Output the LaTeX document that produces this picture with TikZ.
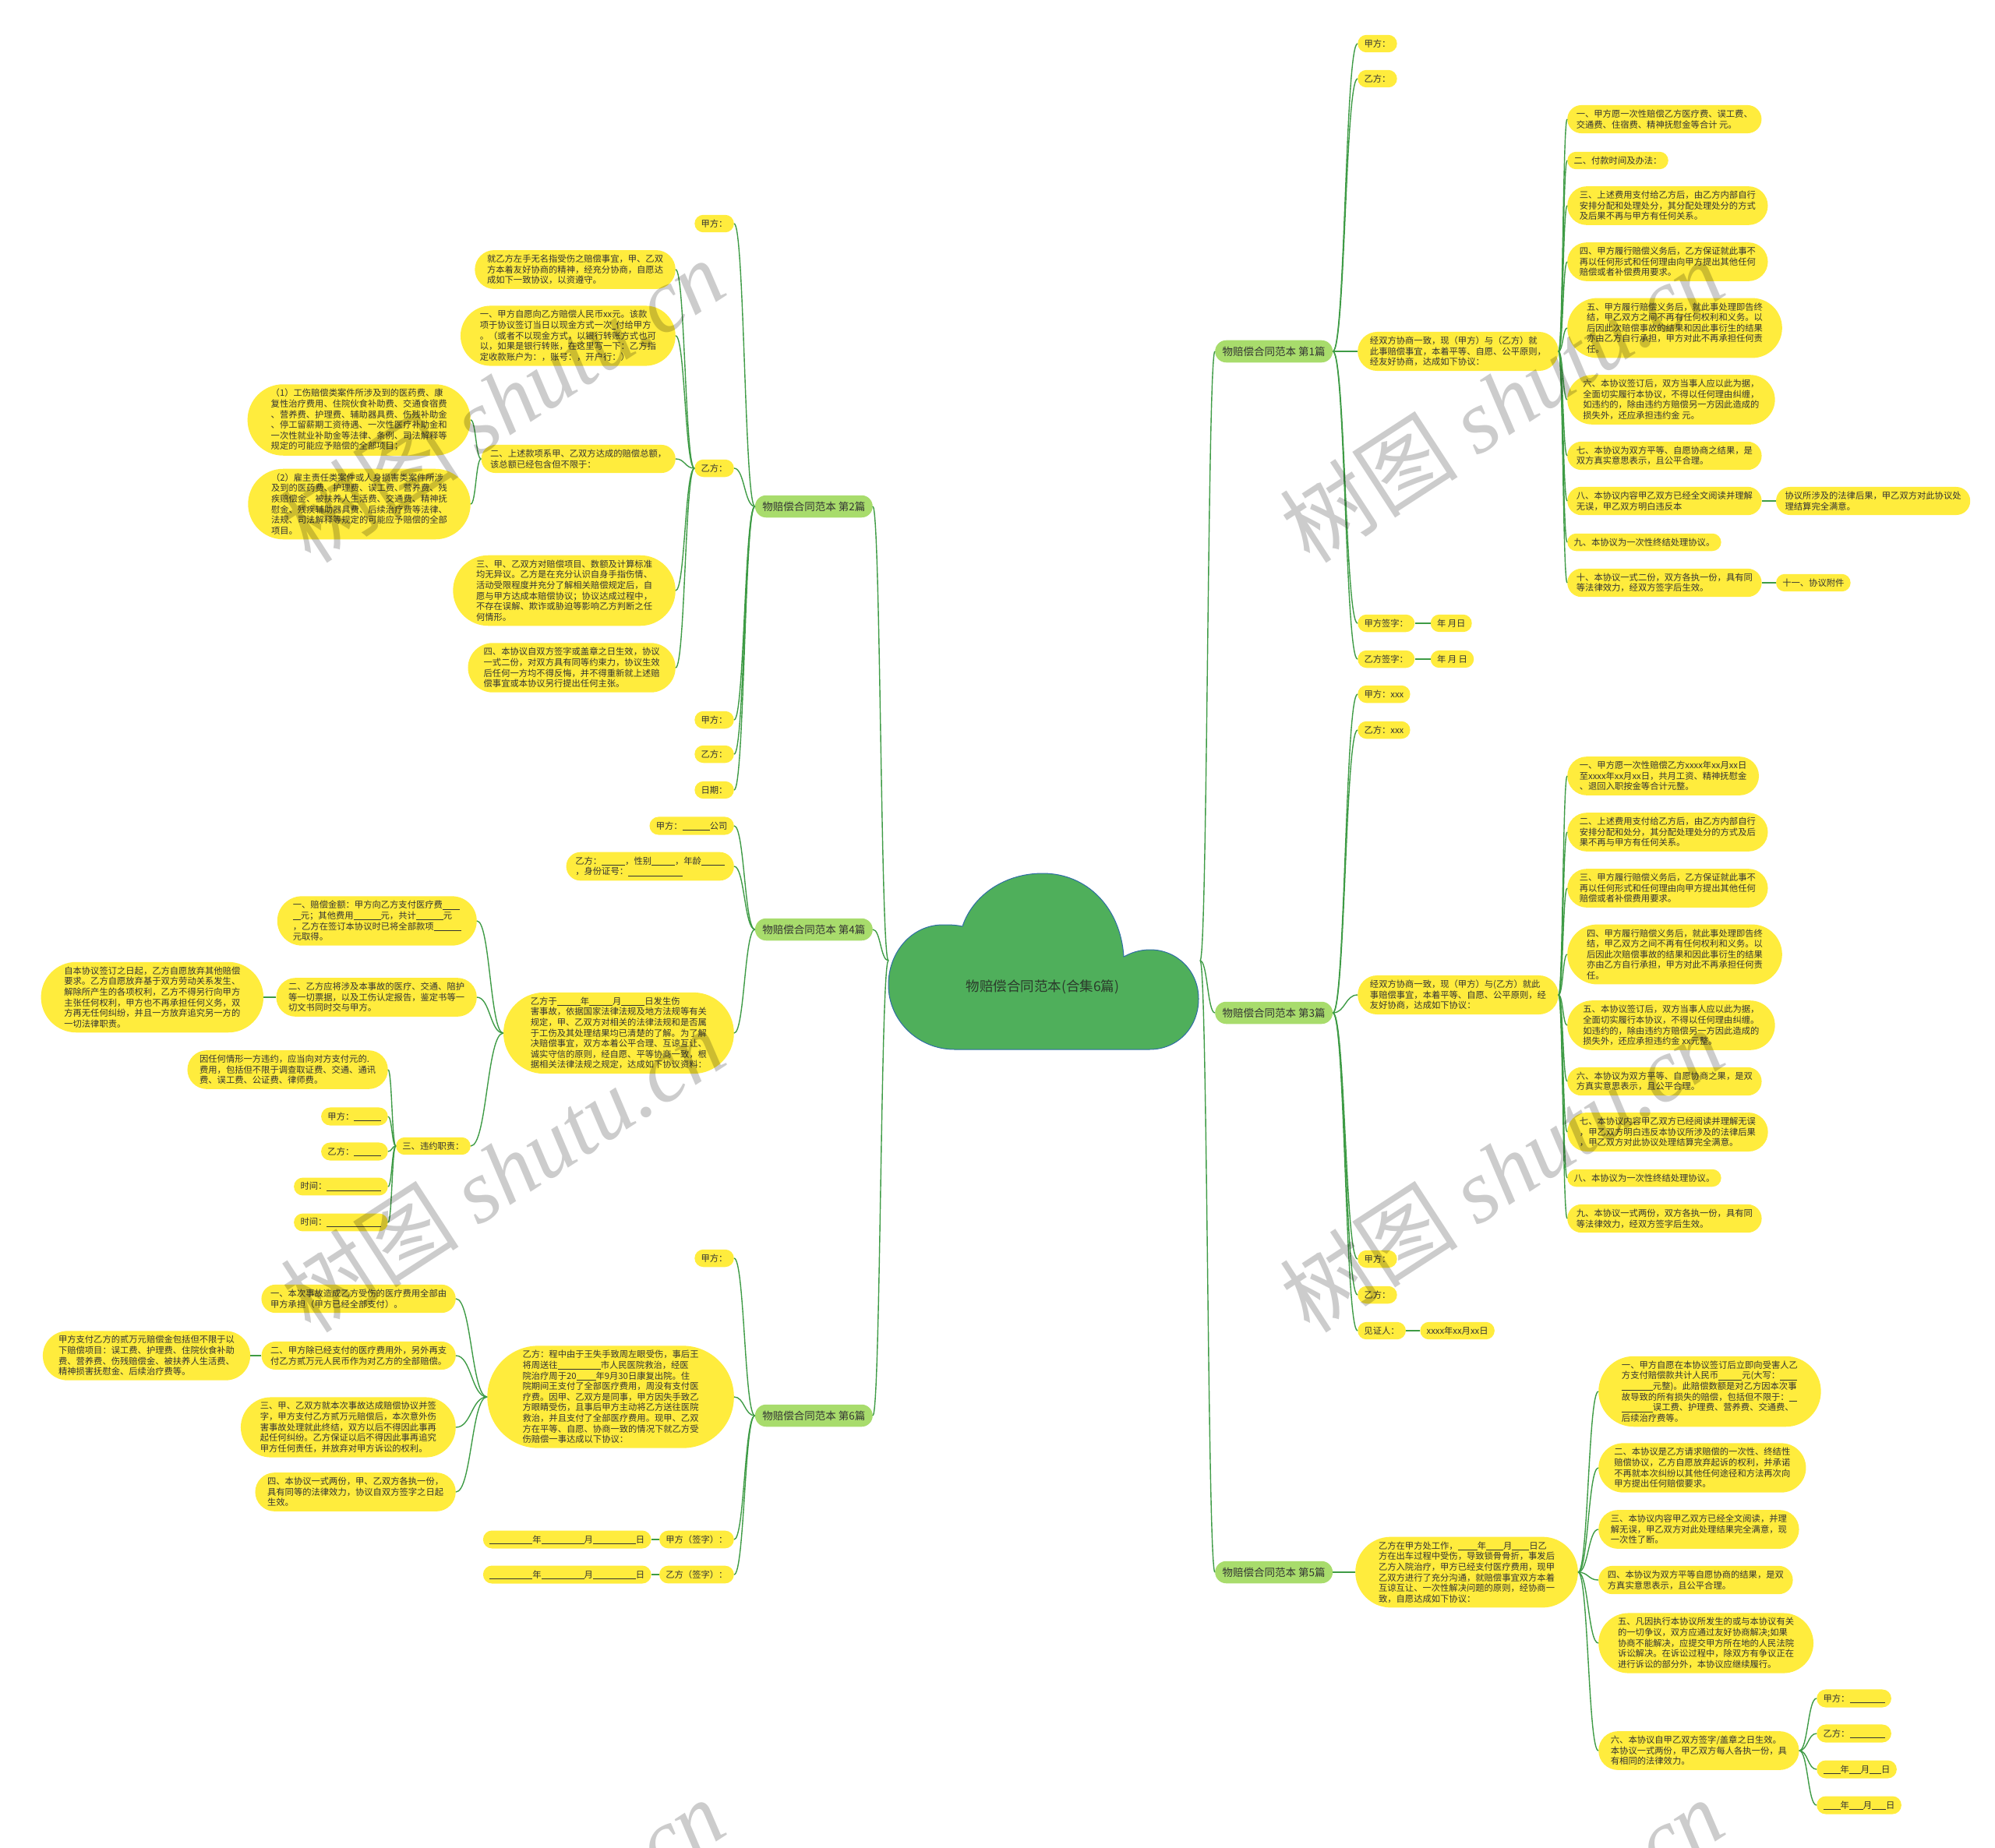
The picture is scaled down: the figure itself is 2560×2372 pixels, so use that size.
\documentclass[tikz,border=0pt]{standalone}
\usepackage{fontspec}
\setmainfont{Noto Sans CJK SC}
\newfontfamily\wmlatin{Liberation Serif}
\usetikzlibrary{shapes.misc,positioning,calc}
\definecolor{leafyellow}{HTML}{FFEC3D}
\definecolor{chapgreen}{HTML}{A8DC6C}
\definecolor{rootgreen}{HTML}{4FAF5B}
\definecolor{rootedge}{HTML}{2E6DA4}
\definecolor{rootink}{HTML}{2B3A2B}
\definecolor{linkgreen}{HTML}{3E9B45}
\definecolor{inkgrey}{HTML}{333333}
% blank to fill in, and a bent connector between two anchors
\newcommand{\blk}[1]{\rule[-1.5pt]{#1}{0.6pt}}
\newcommand{\lnk}[2]{%
  \path ($(#1)!0.5!(#2)$) coordinate (lk);
  \draw[lnkline] (#1) .. controls (lk |- #1) and (lk |- #2) .. (#2);}

\begin{document}
\begin{tikzpicture}[x=1pt, y=-1pt,
  leafbox/.style={rounded rectangle, fill=leafyellow, text=inkgrey, align=left,
    font=\fontsize{11.3}{13.6}\selectfont, inner xsep=7pt, inner ysep=6pt},
  chapbox/.style={rounded rectangle, fill=chapgreen, text=inkgrey,
    font=\fontsize{13.5}{16}\selectfont, inner xsep=8pt, inner ysep=8pt},
  roottext/.style={text=rootink, font=\fontsize{17.5}{20}\selectfont},
  lnkline/.style={draw=linkgreen, line width=1.4pt},
  wmark/.style={rotate=33, text=black, text opacity=0.2, font=\fontsize{115}{115}\selectfont}
]
\useasboundingbox (0,0) rectangle (2560,2372);

% Central cloud
\path[fill=rootgreen, draw=rootedge, line width=1pt]
  (1225,1347) -- (1475,1347)
  .. controls (1512,1347) and (1538,1318) .. (1538,1282)
  .. controls (1538,1246) and (1510,1219) .. (1476,1219)
  .. controls (1462,1219) and (1451,1223) .. (1442,1228)
  .. controls (1438,1165) and (1395,1121) .. (1338,1121)
  .. controls (1288,1121) and (1248,1150) .. (1235,1189)
  .. controls (1226,1187) and (1218,1187) .. (1210,1187)
  .. controls (1170,1187) and (1140,1222) .. (1140,1264)
  .. controls (1140,1310) and (1178,1347) .. (1225,1347) -- cycle;
\node[roottext] (root) at (1338,1267) {物赔偿合同范本(合集6篇)};
\coordinate (rootR) at (1540,1233);
\coordinate (rootL) at (1140,1233);

% Chapter nodes
\node[chapbox, anchor=west] (c1) at (1559,451) {物赔偿合同范本 第1篇};
\node[chapbox, anchor=west] (c3) at (1559,1300) {物赔偿合同范本 第3篇};
\node[chapbox, anchor=west] (c5) at (1559,2018) {物赔偿合同范本 第5篇};
\node[chapbox, anchor=east] (c2) at (1120,650) {物赔偿合同范本 第2篇};
\node[chapbox, anchor=east] (c4) at (1120,1193) {物赔偿合同范本 第4篇};
\node[chapbox, anchor=east] (c6) at (1120,1817) {物赔偿合同范本 第6篇};

% Chapter 1
\node[leafbox, anchor=west] (c1a) at (1742,56) {甲方：};
\node[leafbox, anchor=west] (c1b) at (1742,101) {乙方：};
\node[leafbox, anchor=west] (c1c) at (1742,451) {经双方协商一致，现（甲方）与（乙方）就\\此事赔偿事宜，本着平等、自愿、公平原则，\\经友好协商，达成如下协议：};
\node[leafbox, anchor=west] (c1d) at (1742,800) {甲方签字：};
\node[leafbox, right=20pt of c1d] (c1d1) {年 月日};
\node[leafbox, anchor=west] (c1e) at (1742,846) {乙方签字：};
\node[leafbox, right=20pt of c1e] (c1e1) {年 月 日};
\node[leafbox, anchor=west] (c1c1) at (2011,153) {一、甲方愿一次性赔偿乙方医疗费、误工费、\\交通费、住宿费、精神抚慰金等合计 元。};
\node[leafbox, anchor=west] (c1c2) at (2011,206) {二、付款时间及办法：};
\node[leafbox, anchor=west] (c1c3) at (2011,264) {三、上述费用支付给乙方后，由乙方内部自行\\安排分配和处理处分，其分配处理处分的方式\\及后果不再与甲方有任何关系。};
\node[leafbox, anchor=west] (c1c4) at (2011,336) {四、甲方履行赔偿义务后，乙方保证就此事不\\再以任何形式和任何理由向甲方提出其他任何\\赔偿或者补偿费用要求。};
\node[leafbox, anchor=west] (c1c5) at (2011,421) {五、甲方履行赔偿义务后，就此事处理即告终\\结，甲乙双方之间不再有任何权利和义务。以\\后因此次赔偿事故的结果和因此事衍生的结果\\亦由乙方自行承担，甲方对此不再承担任何责\\任。};
\node[leafbox, anchor=west] (c1c6) at (2011,513) {六、本协议签订后，双方当事人应以此为据，\\全面切实履行本协议，不得以任何理由纠缠，\\如违约的，除由违约方赔偿另一方因此造成的\\损失外，还应承担违约金 元。};
\node[leafbox, anchor=west] (c1c7) at (2011,585) {七、本协议为双方平等、自愿协商之结果，是\\双方真实意思表示，且公平合理。};
\node[leafbox, anchor=west] (c1c8) at (2011,643) {八、本协议内容甲乙双方已经全文阅读并理解\\无误，甲乙双方明白违反本};
\node[leafbox, right=18pt of c1c8] (c1c8a) {协议所涉及的法律后果，甲乙双方对此协议处\\理结算完全满意。};
\node[leafbox, anchor=west] (c1c9) at (2011,696) {九、本协议为一次性终结处理协议。};
\node[leafbox, anchor=west] (c1c10) at (2011,748) {十、本协议一式二份，双方各执一份，具有同\\等法律效力，经双方签字后生效。};
\node[leafbox, right=18pt of c1c10] (c1c10a) {十一、协议附件};

% Chapter 3
\node[leafbox, anchor=west] (c3a) at (1742,891) {甲方：xxx};
\node[leafbox, anchor=west] (c3b) at (1742,937) {乙方：xxx};
\node[leafbox, anchor=west] (c3c) at (1742,1277) {经双方协商一致，现（甲方）与(乙方）就此\\事赔偿事宜，本着平等、自愿、公平原则，经\\友好协商，达成如下协议：};
\node[leafbox, anchor=west] (c3d) at (1742,1616) {甲方：};
\node[leafbox, anchor=west] (c3e) at (1742,1662) {乙方：};
\node[leafbox, anchor=west] (c3f) at (1742,1708) {见证人：};
\node[leafbox, right=18pt of c3f] (c3f1) {xxxx年xx月xx日};
\node[leafbox, anchor=west] (c3c1) at (2011,996) {一、甲方愿一次性赔偿乙方xxxx年xx月xx日\\至xxxx年xx月xx日，共月工资、精神抚慰金\\、退回入职按金等合计元整。};
\node[leafbox, anchor=west] (c3c2) at (2011,1068) {二、上述费用支付给乙方后，由乙方内部自行\\安排分配和处分，其分配处理处分的方式及后\\果不再与甲方有任何关系。};
\node[leafbox, anchor=west] (c3c3) at (2011,1140) {三、甲方履行赔偿义务后，乙方保证就此事不\\再以任何形式和任何理由向甲方提出其他任何\\赔偿或者补偿费用要求。};
\node[leafbox, anchor=west] (c3c4) at (2011,1225) {四、甲方履行赔偿义务后，就此事处理即告终\\结，甲乙双方之间不再有任何权利和义务。以\\后因此次赔偿事故的结果和因此事衍生的结果\\亦由乙方自行承担，甲方对此不再承担任何责\\任。};
\node[leafbox, anchor=west] (c3c5) at (2011,1316) {五、本协议签订后，双方当事人应以此为据，\\全面切实履行本协议，不得以任何理由纠缠。\\如违约的，除由违约方赔偿另一方因此造成的\\损失外，还应承担违约金 xx元整。};
\node[leafbox, anchor=west] (c3c6) at (2011,1388) {六、本协议为双方平等、自愿协商之果，是双\\方真实意思表示，且公平合理。};
\node[leafbox, anchor=west] (c3c7) at (2011,1453) {七、本协议内容甲乙双方已经阅读并理解无误\\，甲乙双方明白违反本协议所涉及的法律后果\\，甲乙双方对此协议处理结算完全满意。};
\node[leafbox, anchor=west] (c3c8) at (2011,1512) {八、本协议为一次性终结处理协议。};
\node[leafbox, anchor=west] (c3c9) at (2011,1564) {九、本协议一式两份，双方各执一份，具有同\\等法律效力，经双方签字后生效。};

% Chapter 5
\node[leafbox, anchor=west] (c5a) at (1739,2018) {乙方在甲方处工作，\blk{25pt}年\blk{22pt}月\blk{22pt}日乙\\方在出车过程中受伤，导致锁骨骨折，事发后\\乙方入院治疗，甲方已经支付医疗费用，现甲\\乙双方进行了充分沟通，就赔偿事宜双方本着\\互谅互让、一次性解决问题的原则，经协商一\\致，自愿达成如下协议：};
\node[leafbox, anchor=west] (c5a1) at (2051,1786) {一、甲方自愿在本协议签订后立即向受害人乙\\方支付赔偿款共计人民币\blk{30pt}元(大写：\blk{22pt}\\\blk{40pt}元整)。此赔偿数额是对乙方因本次事\\故导致的所有损失的赔偿，包括但不限于：\blk{10pt}\\\blk{40pt}误工费、护理费、营养费、交通费、\\后续治疗费等。};
\node[leafbox, anchor=west] (c5a2) at (2051,1884) {二、本协议是乙方请求赔偿的一次性、终结性\\赔偿协议，乙方自愿放弃起诉的权利，并承诺\\不再就本次纠纷以其他任何途径和方法再次向\\甲方提出任何赔偿要求。};
\node[leafbox, anchor=west] (c5a3) at (2051,1963) {三、本协议内容甲乙双方已经全文阅读，并理\\解无误，甲乙双方对此处理结果完全满意，现\\一次性了断。};
\node[leafbox, anchor=west] (c5a4) at (2051,2028) {四、本协议为双方平等自愿协商的结果，是双\\方真实意思表示，且公平合理。};
\node[leafbox, anchor=west] (c5a5) at (2051,2109) {五、凡因执行本协议所发生的或与本协议有关\\的一切争议，双方应通过友好协商解决;如果\\协商不能解决，应提交甲方所在地的人民法院\\诉讼解决。在诉讼过程中，除双方有争议正在\\进行诉讼的部分外，本协议应继续履行。};
\node[leafbox, anchor=west] (c5a6) at (2051,2247) {六、本协议自甲乙双方签字/盖章之日生效。\\本协议一式两份，甲乙双方每人各执一份，具\\有相同的法律效力。};
\node[leafbox, anchor=west] (c5a6a) at (2331,2180) {甲方：\blk{45pt}};
\node[leafbox, anchor=west] (c5a6b) at (2331,2225) {乙方：\blk{45pt}};
\node[leafbox, anchor=west] (c5a6c) at (2331,2271) {\blk{22pt}年\blk{15pt}月\blk{15pt}日};
\node[leafbox, anchor=west] (c5a6d) at (2331,2317) {\blk{22pt}年\blk{18pt}月\blk{18pt}日};

% Chapter 2
\node[leafbox, anchor=east] (c2a) at (942,287) {甲方：};
\node[leafbox, anchor=east] (c2b) at (942,601) {乙方：};
\node[leafbox, anchor=east] (c2c) at (942,924) {甲方：};
\node[leafbox, anchor=east] (c2d) at (942,968) {乙方：};
\node[leafbox, anchor=east] (c2e) at (942,1014) {日期：};
\node[leafbox, anchor=east] (c2b1) at (867,346) {就乙方左手无名指受伤之赔偿事宜，甲、乙双\\方本着友好协商的精神，经充分协商，自愿达\\成如下一致协议，以资遵守。};
\node[leafbox, anchor=east] (c2b2) at (867,431) {一、甲方自愿向乙方赔偿人民币xx元。该款\\项于协议签订当日以现金方式一次\blk{5pt}付给甲方\\。（或者不以现金方式，以银行转账方式也可\\以，如果是银行转账，在这里写一下：乙方指\\定收款账户为：，账号：，开户行：）};
\node[leafbox, anchor=east] (c2b3) at (867,589) {二、上述款项系甲、乙双方达成的赔偿总额，\\该总额已经包含但不限于：};
\node[leafbox, anchor=east] (c2b4) at (867,758) {三、甲、乙双方对赔偿项目、数额及计算标准\\均无异议。乙方是在充分认识自身手指伤情、\\活动受限程度并充分了解相关赔偿规定后，自\\愿与甲方达成本赔偿协议；协议达成过程中，\\不存在误解、欺诈或胁迫等影响乙方判断之任\\何情形。};
\node[leafbox, anchor=east] (c2b5) at (867,857) {四、本协议自双方签字或盖章之日生效，协议\\一式二份，对双方具有同等约束力，协议生效\\后任何一方均不得反悔，并不得重新就上述赔\\偿事宜或本协议另行提出任何主张。};
\node[leafbox, anchor=east] (c2b3a) at (604,539) {（1）工伤赔偿类案件所涉及到的医药费、康\\复性治疗费用、住院伙食补助费、交通食宿费\\、营养费、护理费、辅助器具费、伤残补助金\\、停工留薪期工资待遇、一次性医疗补助金和\\一次性就业补助金等法律、条例、司法解释等\\规定的可能应予赔偿的全部项目；};
\node[leafbox, anchor=east] (c2b3b) at (604,647) {（2）雇主责任类案件或人身损害类案件所涉\\及到的医药费、护理费、误工费、营养费、残\\疾赔偿金、被扶养人生活费、交通费、精神抚\\慰金、残疾辅助器具费、后续治疗费等法律、\\法规、司法解释等规定的可能应予赔偿的全部\\项目。};

% Chapter 4
\node[leafbox, anchor=east] (c4a) at (942,1060) {甲方：\blk{35pt}公司};
\node[leafbox, anchor=east] (c4b) at (942,1112) {乙方：\blk{30pt}，性别\blk{30pt}，年龄\blk{30pt}\\，身份证号：\blk{70pt}};
\node[leafbox, anchor=east] (c4c) at (942,1326) {乙方于\blk{30pt}年\blk{30pt}月\blk{30pt}日发生伤\\害事故，依据国家法律法规及地方法规等有关\\规定，甲、乙双方对相关的法律法规和是否属\\于工伤及其处理结果均已清楚的了解。为了解\\决赔偿事宜，双方本着公平合理、互谅互让、\\诚实守信的原则，经自愿、平等协商一致，根\\据相关法律法规之规定，达成如下协议资料：};
\node[leafbox, anchor=east] (c4c1) at (612,1182) {一、赔偿金额：甲方向乙方支付医疗费\blk{22pt}\\\blk{10pt}元；其他费用\blk{35pt}元，共计\blk{35pt}元\\，乙方在签订本协议时已将全部款项\blk{35pt}\\元取得。};
\node[leafbox, anchor=east] (c4c2) at (612,1280) {二、乙方应将涉及本事故的医疗、交通、陪护\\等一切票据，以及工伤认定报告，鉴定书等一\\切文书同时交与甲方。};
\node[leafbox, left=16pt of c4c2] (c4c2a) {自本协议签订之日起，乙方自愿放弃其他赔偿\\要求。乙方自愿放弃基于双方劳动关系发生、\\解除所产生的各项权利，乙方不得另行向甲方\\主张任何权利，甲方也不再承担任何义务，双\\方再无任何纠纷，并且一方放弃追究另一方的\\一切法律职责。};
\node[leafbox, anchor=east] (c4c3) at (604,1471) {三、违约职责：};
\node[leafbox, anchor=east] (c4c3a) at (498,1373) {因任何情形一方违约，应当向对方支付元的.\\费用，包括但不限于调查取证费、交通、通讯\\费、误工费、公证费、律师费。};
\node[leafbox, anchor=east] (c4c3b) at (498,1433) {甲方：\blk{35pt}};
\node[leafbox, anchor=east] (c4c3c) at (498,1478) {乙方：\blk{35pt}};
\node[leafbox, anchor=east] (c4c3d) at (498,1523) {时间：\blk{70pt}};
\node[leafbox, anchor=east] (c4c3e) at (498,1569) {时间：\blk{70pt}};

% Chapter 6
\node[leafbox, anchor=east] (c6a) at (942,1615) {甲方：};
\node[leafbox, anchor=east] (c6b) at (942,1793) {乙方：程中由于王失手致周左眼受伤，事后王\\将周送往\blk{55pt}市人民医院救治，经医\\院治疗周于20\blk{25pt}年9月30日康复出院。住\\院期间王支付了全部医疗费用，周没有支付医\\疗费。因甲、乙双方是同事，甲方因失手致乙\\方眼睛受伤，且事后甲方主动将乙方送往医院\\救治，并且支付了全部医疗费用。现甲、乙双\\方在平等、自愿、协商一致的情况下就乙方受\\伤赔偿一事达成以下协议：};
\node[leafbox, anchor=east] (c6c) at (942,1976) {甲方（签字）：};
\node[leafbox, left=10pt of c6c] (c6c1) {\blk{55pt}年\blk{55pt}月\blk{55pt}日};
\node[leafbox, anchor=east] (c6d) at (942,2021) {乙方（签字）：};
\node[leafbox, left=10pt of c6d] (c6d1) {\blk{55pt}年\blk{55pt}月\blk{55pt}日};
\node[leafbox, anchor=east] (c6b1) at (585,1667) {一、本次事故造成乙方受伤的医疗费用全部由\\甲方承担（甲方已经全部支付）。};
\node[leafbox, anchor=east] (c6b2) at (585,1740) {二、甲方除已经支付的医疗费用外，另外再支\\付乙方贰万元人民币作为对乙方的全部赔偿。};
\node[leafbox, left=14pt of c6b2] (c6b2a) {甲方支付乙方的贰万元赔偿金包括但不限于以\\下赔偿项目：误工费、护理费、住院伙食补助\\费、营养费、伤残赔偿金、被扶养人生活费、\\精神损害抚慰金、后续治疗费等。};
\node[leafbox, anchor=east] (c6b3) at (585,1832) {三、甲、乙双方就本次事故达成赔偿协议并签\\字，甲方支付乙方贰万元赔偿后，本次意外伤\\害事故处理就此终结，双方以后不得因此事再\\起任何纠纷。乙方保证以后不得因此事再追究\\甲方任何责任，并放弃对甲方诉讼的权利。};
\node[leafbox, anchor=east] (c6b4) at (585,1915) {四、本协议一式两份，甲、乙双方各执一份，\\具有同等的法律效力，协议自双方签字之日起\\生效。};

% Connectors, right half
\lnk{rootR}{c1.west} \lnk{rootR}{c3.west} \lnk{rootR}{c5.west}
\lnk{c1.east}{c1a.west} \lnk{c1.east}{c1b.west} \lnk{c1.east}{c1c.west}
\lnk{c1.east}{c1d.west} \lnk{c1.east}{c1e.west}
\lnk{c1d.east}{c1d1.west} \lnk{c1e.east}{c1e1.west}
\lnk{c1c.east}{c1c1.west} \lnk{c1c.east}{c1c2.west} \lnk{c1c.east}{c1c3.west}
\lnk{c1c.east}{c1c4.west} \lnk{c1c.east}{c1c5.west} \lnk{c1c.east}{c1c6.west}
\lnk{c1c.east}{c1c7.west} \lnk{c1c.east}{c1c8.west} \lnk{c1c.east}{c1c9.west}
\lnk{c1c.east}{c1c10.west}
\lnk{c1c8.east}{c1c8a.west} \lnk{c1c10.east}{c1c10a.west}
\lnk{c3.east}{c3a.west} \lnk{c3.east}{c3b.west} \lnk{c3.east}{c3c.west}
\lnk{c3.east}{c3d.west} \lnk{c3.east}{c3e.west} \lnk{c3.east}{c3f.west}
\lnk{c3f.east}{c3f1.west}
\lnk{c3c.east}{c3c1.west} \lnk{c3c.east}{c3c2.west} \lnk{c3c.east}{c3c3.west}
\lnk{c3c.east}{c3c4.west} \lnk{c3c.east}{c3c5.west} \lnk{c3c.east}{c3c6.west}
\lnk{c3c.east}{c3c7.west} \lnk{c3c.east}{c3c8.west} \lnk{c3c.east}{c3c9.west}
\lnk{c5.east}{c5a.west}
\lnk{c5a.east}{c5a1.west} \lnk{c5a.east}{c5a2.west} \lnk{c5a.east}{c5a3.west}
\lnk{c5a.east}{c5a4.west} \lnk{c5a.east}{c5a5.west} \lnk{c5a.east}{c5a6.west}
\lnk{c5a6.east}{c5a6a.west} \lnk{c5a6.east}{c5a6b.west}
\lnk{c5a6.east}{c5a6c.west} \lnk{c5a6.east}{c5a6d.west}

% Connectors, left half
\lnk{rootL}{c2.east} \lnk{rootL}{c4.east} \lnk{rootL}{c6.east}
\lnk{c2.west}{c2a.east} \lnk{c2.west}{c2b.east} \lnk{c2.west}{c2c.east}
\lnk{c2.west}{c2d.east} \lnk{c2.west}{c2e.east}
\lnk{c2b.west}{c2b1.east} \lnk{c2b.west}{c2b2.east} \lnk{c2b.west}{c2b3.east}
\lnk{c2b.west}{c2b4.east} \lnk{c2b.west}{c2b5.east}
\lnk{c2b3.west}{c2b3a.east} \lnk{c2b3.west}{c2b3b.east}
\lnk{c4.west}{c4a.east} \lnk{c4.west}{c4b.east} \lnk{c4.west}{c4c.east}
\lnk{c4c.west}{c4c1.east} \lnk{c4c.west}{c4c2.east} \lnk{c4c.west}{c4c3.east}
\lnk{c4c2.west}{c4c2a.east}
\lnk{c4c3.west}{c4c3a.east} \lnk{c4c3.west}{c4c3b.east} \lnk{c4c3.west}{c4c3c.east}
\lnk{c4c3.west}{c4c3d.east} \lnk{c4c3.west}{c4c3e.east}
\lnk{c6.west}{c6a.east} \lnk{c6.west}{c6b.east} \lnk{c6.west}{c6c.east}
\lnk{c6.west}{c6d.east}
\lnk{c6c.west}{c6c1.east} \lnk{c6d.west}{c6d1.east}
\lnk{c6b.west}{c6b1.east} \lnk{c6b.west}{c6b2.east} \lnk{c6b.west}{c6b3.east}
\lnk{c6b.west}{c6b4.east}
\lnk{c6b2.west}{c6b2a.east}

% Watermarks over everything
\node[wmark] (wm1) at (645,514) {树图 {\wmlatin\itshape shutu.cn}};
\node[wmark] (wm2) at (1927,514) {树图 {\wmlatin\itshape shutu.cn}};
\node[wmark] (wm3) at (645,1502) {树图 {\wmlatin\itshape shutu.cn}};
\node[wmark] (wm4) at (1927,1502) {树图 {\wmlatin\itshape shutu.cn}};
\node[wmark] (wm5) at (645,2490) {树图 {\wmlatin\itshape shutu.cn}};
\node[wmark] (wm6) at (1927,2490) {树图 {\wmlatin\itshape shutu.cn}};

\end{tikzpicture}
\end{document}
